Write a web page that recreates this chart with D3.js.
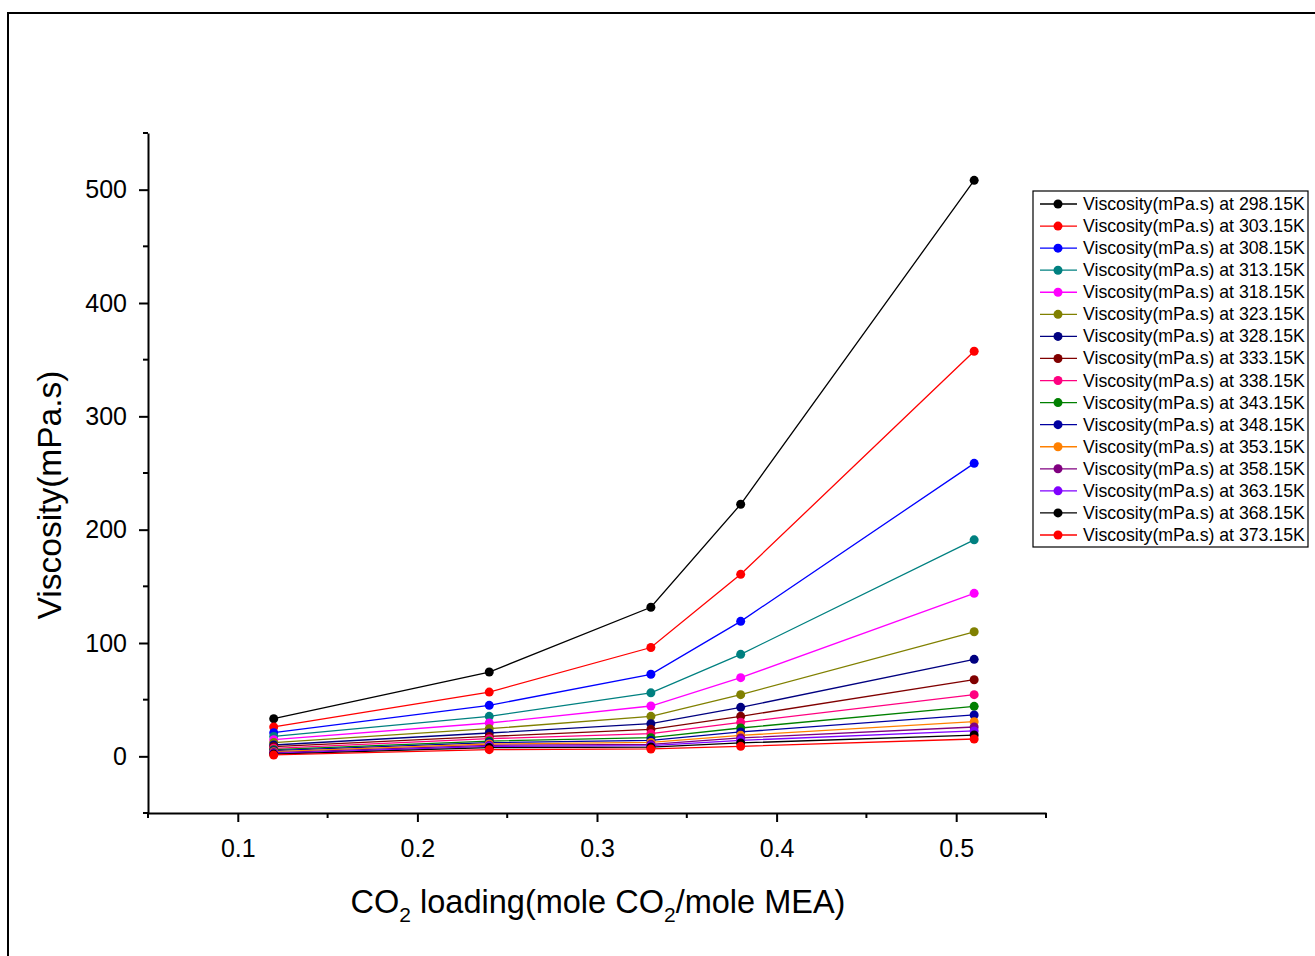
<!DOCTYPE html>
<html>
<head>
<meta charset="utf-8">
<script src="https://cdn.jsdelivr.net/npm/d3@7"></script>
<style>
  html, body { margin: 0; padding: 0; background: #fff; }
  svg { display: block; font-family: "Liberation Sans", Arial, sans-serif; }
</style>
</head>
<body>
<svg id="chart" width="1315" height="956"></svg>
<script>
// CO2 loading (mole CO2 / mole MEA)
const loading = [0.12, 0.24, 0.33, 0.38, 0.51];

// Temperatures of each series (K)
const temperatures = ["298.15", "303.15", "308.15", "313.15", "318.15", "323.15", "328.15", "333.15",
                      "338.15", "343.15", "348.15", "353.15", "358.15", "363.15", "368.15", "373.15"];

// Viscosity (mPa.s), one row per temperature, one value per loading
const viscosity = [
  [33.2, 74.4, 131.5, 222.4, 508.2],
  [25.9, 56.7, 96.0, 160.6, 357.4],
  [20.9, 45.0, 72.4, 119.1, 258.5],
  [17.6, 35.3, 56.0, 90.0, 191.0],
  [14.7, 29.4, 44.4, 69.4, 143.8],
  [12.1, 24.4, 35.3, 54.4, 109.9],
  [10.0, 20.6, 28.8, 43.2, 85.6],
  [8.5, 17.6, 23.8, 35.3, 67.6],
  [7.1, 15.6, 20.0, 30.0, 54.4],
  [5.9, 13.5, 16.5, 25.0, 44.1],
  [5.0, 12.1, 14.0, 21.5, 36.5],
  [4.1, 10.9, 12.3, 18.5, 30.6],
  [3.3, 9.7, 10.6, 16.2, 25.9],
  [2.6, 8.8, 9.4, 14.1, 22.4],
  [2.0, 7.7, 8.2, 11.8, 18.8],
  [1.2, 5.9, 6.5, 8.8, 15.3]
];

const seriesColors = ["#000000", "#FF0000", "#0000FF", "#008080", "#FF00FF", "#808000", "#000080", "#800000",
                      "#FF0080", "#008000", "#0000A0", "#FF8000", "#800080", "#8000FF", "#000000", "#FF0000"];

const xMajorTicks = [0.1, 0.2, 0.3, 0.4, 0.5];
const xMinorTicks = [0.05, 0.15, 0.25, 0.35, 0.45, 0.55];
const yMajorTicks = [0, 100, 200, 300, 400, 500];
const yMinorTicks = [-50, 50, 150, 250, 350, 450, 550];

const svg = d3.select("#chart");

// outer frame (right and bottom edges fall just outside the canvas)
svg.append("rect")
  .attr("x", 8).attr("y", 13).attr("width", 1310).attr("height", 950)
  .attr("fill", "none").attr("stroke", "#000").attr("stroke-width", 2);

const plot = { left: 148, right: 1046, top: 133, bottom: 813 };

const x = d3.scaleLinear().domain([0.05, 0.55]).range([plot.left, plot.right]);
const y = d3.scaleLinear().domain([-50, 550]).range([plot.bottom, plot.top]);

// x axis
const xAxis = svg.append("g").attr("transform", `translate(0,${plot.bottom})`);
xAxis.call(d3.axisBottom(x).tickValues(xMajorTicks).tickSize(9).tickSizeOuter(0).tickPadding(17)
  .tickFormat(d3.format(".1f")));
xAxis.append("g").selectAll("line").data(xMinorTicks).join("line")
  .attr("x1", d => x(d)).attr("x2", d => x(d)).attr("y1", 0).attr("y2", 5)
  .attr("stroke", "#000").attr("stroke-width", 2);

// y axis
const yAxis = svg.append("g").attr("transform", `translate(${plot.left},0)`);
yAxis.call(d3.axisLeft(y).tickValues(yMajorTicks).tickSize(9).tickSizeOuter(0).tickPadding(12));
yAxis.append("g").selectAll("line").data(yMinorTicks).join("line")
  .attr("y1", d => y(d)).attr("y2", d => y(d)).attr("x1", 0).attr("x2", -5)
  .attr("stroke", "#000").attr("stroke-width", 2);

svg.selectAll(".domain").attr("stroke", "#000").attr("stroke-width", 2);
svg.selectAll(".tick line").attr("stroke", "#000").attr("stroke-width", 2);
svg.selectAll(".tick text").attr("font-size", 25).attr("fill", "#000")
  .attr("font-family", "'Liberation Sans', Arial, sans-serif");

// axis titles
svg.append("text")
  .attr("transform", `translate(61,${(plot.top + plot.bottom) / 2 + 22}) rotate(-90)`)
  .attr("text-anchor", "middle").attr("font-size", 33.5).attr("fill", "#000")
  .text("Viscosity(mPa.s)");

const xt = svg.append("text")
  .attr("x", (plot.left + plot.right) / 2 + 1).attr("y", 913)
  .attr("text-anchor", "middle").attr("font-size", 32.5).attr("fill", "#000");
xt.append("tspan").text("CO");
xt.append("tspan").attr("font-size", 21).attr("dy", 9).text("2");
xt.append("tspan").attr("dy", -9).text(" loading(mole CO");
xt.append("tspan").attr("font-size", 21).attr("dy", 9).text("2");
xt.append("tspan").attr("dy", -9).text("/mole MEA)");

// series
const line = d3.line().x((d, i) => x(loading[i])).y(d => y(d));
const series = svg.append("g");
viscosity.forEach((vals, k) => {
  const g = series.append("g");
  g.append("path").datum(vals).attr("d", line)
    .attr("fill", "none").attr("stroke", seriesColors[k]).attr("stroke-width", 1.3);
  g.selectAll("circle").data(vals).join("circle")
    .attr("cx", (d, i) => x(loading[i])).attr("cy", d => y(d)).attr("r", 4.5)
    .attr("fill", seriesColors[k]);
});

// legend
const legend = svg.append("g");
legend.append("rect").attr("x", 1033).attr("y", 191).attr("width", 275).attr("height", 356)
  .attr("fill", "#fff").attr("stroke", "#000").attr("stroke-width", 1.2);
const rowY = d3.scaleLinear().domain([0, 15]).range([204, 535]);
temperatures.forEach((t, k) => {
  const cy = rowY(k);
  legend.append("line").attr("x1", 1040).attr("x2", 1077).attr("y1", cy).attr("y2", cy)
    .attr("stroke", seriesColors[k]).attr("stroke-width", 1.3);
  legend.append("circle").attr("cx", 1058).attr("cy", cy).attr("r", 4.5).attr("fill", seriesColors[k]);
  legend.append("text").attr("x", 1083).attr("y", cy + 6).attr("font-size", 17.7).attr("fill", "#000")
    .text(`Viscosity(mPa.s) at ${t}K`);
});
</script>
</body>
</html>
